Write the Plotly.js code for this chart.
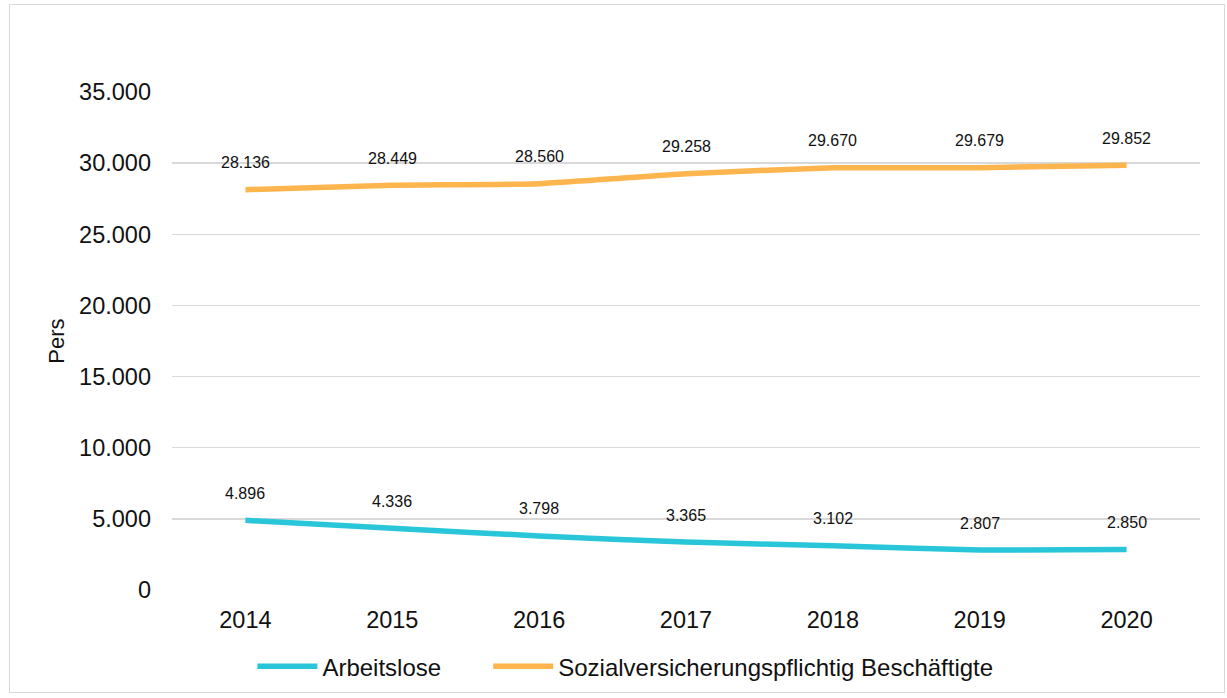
<!DOCTYPE html>
<html>
<head>
<meta charset="utf-8">
<script src="https://cdn.plot.ly/plotly-3.0.1.min.js"></script>
<style>
  html, body { margin: 0; padding: 0; background: #fff; }
  #frame { position: absolute; left: 9px; top: 4px; width: 1216px; height: 689px; border: 1px solid #d9d9d9; box-sizing: border-box; pointer-events: none; }
  #chart { position: absolute; left: 0; top: 0; width: 1227px; height: 698px; }
</style>
</head>
<body>
<div id="chart"></div>
<div id="frame"></div>
<script>
const years = ['2014', '2015', '2016', '2017', '2018', '2019', '2020'];
const arbeitslose = [4896, 4336, 3798, 3365, 3102, 2807, 2850];
const beschaeftigte = [28136, 28449, 28560, 29258, 29670, 29679, 29852];
const yTicks = [0, 5000, 10000, 15000, 20000, 25000, 30000, 35000];

const fontFamily = '"Liberation Sans", Arial, sans-serif';
const cyan = '#29C6DA';
const orange = '#FFB54D';

const traces = [
  {
    x: years, y: arbeitslose, name: 'Arbeitslose', type: 'scatter', mode: 'lines',
    line: { color: cyan, width: 5.5, shape: 'spline', smoothing: 0.4 },
    hoverinfo: 'x+y', legend: 'legend'
  },
  {
    x: years, y: beschaeftigte, name: 'Sozialversicherungspflichtig Beschäftigte', type: 'scatter', mode: 'lines',
    line: { color: orange, width: 5.5, shape: 'spline', smoothing: 0.4 },
    hoverinfo: 'x+y', legend: 'legend2'
  }
];

const fmt = v => v.toLocaleString('de-DE');
const annotations = [];
[arbeitslose, beschaeftigte].forEach(series => {
  series.forEach((v, i) => {
    annotations.push({
      x: i, y: v, xref: 'x', yref: 'y', text: fmt(v), showarrow: false,
      yshift: 27, font: { family: fontFamily, size: 16, color: '#111' }
    });
  });
});

const legendBase = {
  orientation: 'h', xanchor: 'left', y: -0.154, yanchor: 'middle',
  font: { family: fontFamily, size: 24, color: '#111' },
  itemwidth: 60, bgcolor: 'rgba(0,0,0,0)'
};

const layout = {
  width: 1227, height: 698,
  margin: { l: 171.5, r: 26.5, t: 91.5, b: 107.5, autoexpand: false },
  paper_bgcolor: 'rgba(0,0,0,0)', plot_bgcolor: '#fff',
  separators: ',.',
  font: { family: fontFamily, color: '#111' },
  showlegend: true,
  legend: Object.assign({}, legendBase, { x: 0.0782 }),
  legend2: Object.assign({}, legendBase, { x: 0.3076 }),
  xaxis: {
    type: 'category', range: [-0.5, 6.5], showgrid: false, zeroline: false, showline: false,
    ticks: '', tickfont: { family: fontFamily, size: 23.5, color: '#111' },
    ticklabelstandoff: 13
  },
  yaxis: {
    range: [0, 35000], tickvals: yTicks, tickformat: ',d',
    showgrid: true, gridcolor: '#d9d9d9', gridwidth: 1.5, zeroline: false, showline: false,
    ticks: '', tickfont: { family: fontFamily, size: 23.5, color: '#111' },
    ticklabelstandoff: 20,
    title: { text: 'Pers', font: { family: fontFamily, size: 22, color: '#111' }, standoff: 8 }
  },
  annotations: annotations
};

Plotly.newPlot('chart', traces, layout, { displayModeBar: false, staticPlot: true });
</script>
</body>
</html>
